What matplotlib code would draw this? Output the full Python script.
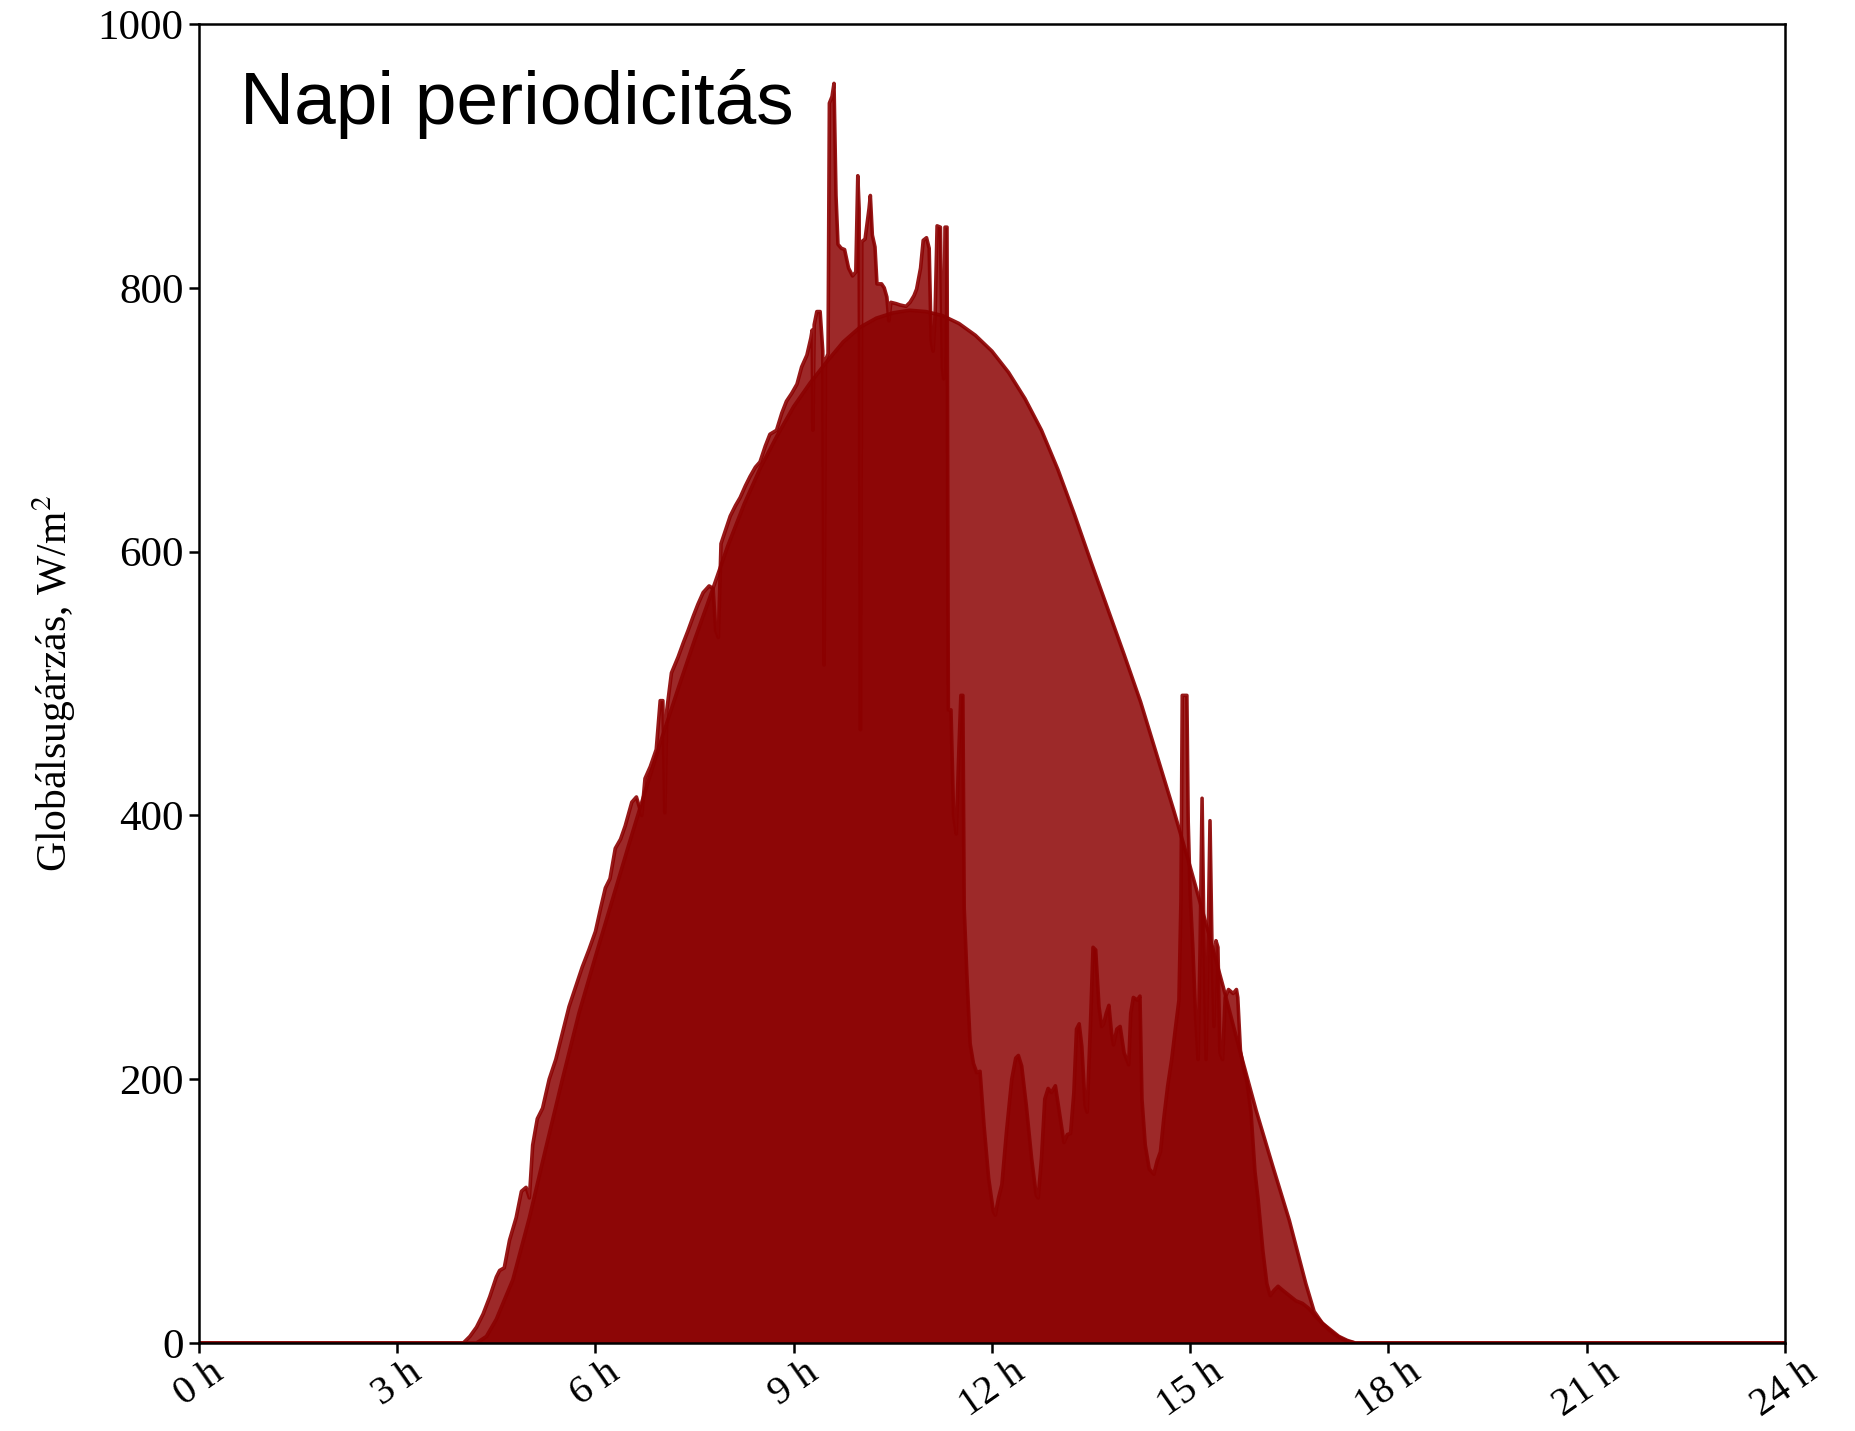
import matplotlib
matplotlib.use("Agg")
import matplotlib.pyplot as plt
import numpy as np

# napi globalsugarzas: mert es tiszta egbolt szerinti (W/m2), ora szerint
meres_ora = [0.0, 4.0, 4.1, 4.2, 4.3, 4.4, 4.5, 4.55, 4.62, 4.7, 4.8, 4.88, 4.95, 5.0, 5.05,
             5.12, 5.2, 5.3, 5.4, 5.5, 5.6, 5.7, 5.8, 5.9, 6.0, 6.08, 6.15, 6.22, 6.3, 6.38,
             6.45, 6.55, 6.62, 6.7, 6.75, 6.83, 6.92, 6.98, 7.02, 7.05, 7.08, 7.15, 7.25,
             7.33, 7.4, 7.48, 7.55, 7.63, 7.72, 7.78, 7.82, 7.86, 7.9, 8.04, 8.12, 8.19,
             8.27, 8.34, 8.42, 8.49, 8.57, 8.64, 8.74, 8.82, 8.89, 8.97, 9.05, 9.12, 9.2,
             9.26, 9.28, 9.29, 9.31, 9.35, 9.4, 9.44, 9.46, 9.48, 9.52, 9.54, 9.58, 9.61,
             9.64, 9.67, 9.72, 9.77, 9.83, 9.89, 9.94, 9.97, 9.99, 10.01, 10.03, 10.08,
             10.14, 10.16, 10.19, 10.23, 10.26, 10.33, 10.37, 10.41, 10.44, 10.47, 10.55,
             10.61, 10.7, 10.76, 10.82, 10.86, 10.92, 10.96, 11.01, 11.05, 11.08, 11.11,
             11.14, 11.17, 11.22, 11.25, 11.27, 11.29, 11.32, 11.34, 11.38, 11.42, 11.46,
             11.5, 11.53, 11.56, 11.58, 11.62, 11.67, 11.72, 11.77, 11.82, 11.88, 11.95,
             12.02, 12.05, 12.1, 12.15, 12.22, 12.3, 12.36, 12.4, 12.45, 12.52, 12.6, 12.67,
             12.7, 12.75, 12.8, 12.85, 12.9, 12.96, 13.02, 13.09, 13.14, 13.19, 13.24, 13.28,
             13.32, 13.36, 13.41, 13.44, 13.49, 13.53, 13.57, 13.62, 13.66, 13.69, 13.73,
             13.77, 13.81, 13.84, 13.89, 13.94, 14.0, 14.07, 14.1, 14.14, 14.2, 14.24, 14.27,
             14.32, 14.38, 14.45, 14.5, 14.55, 14.6, 14.66, 14.72, 14.78, 14.83, 14.86,
             14.88, 14.95, 14.97, 15.0, 15.04, 15.08, 15.12, 15.15, 15.18, 15.21, 15.24,
             15.27, 15.3, 15.33, 15.36, 15.39, 15.42, 15.45, 15.49, 15.53, 15.58, 15.65,
             15.7, 15.72, 15.76, 15.8, 15.86, 15.92, 15.98, 16.03, 16.1, 16.16, 16.21,
             16.27, 16.33, 16.4, 16.5, 16.6, 16.7, 16.8, 16.9, 17.0, 17.1, 17.2, 17.3,
             17.4, 17.5, 24.0]
meres_ertek = [0, 0, 5, 12, 22, 35, 50, 55, 57, 78, 95, 115, 118, 110, 150,
               170, 178, 200, 215, 235, 255, 270, 285, 298, 312, 330, 345, 352, 375, 382,
               392, 410, 414, 400, 428, 437, 450, 487, 487, 402, 480, 508, 520,
               531, 540, 551, 560, 569, 574, 572, 540, 535, 606, 627, 635, 641,
               650, 657, 664, 668, 680, 689, 692, 705, 714, 720, 727, 740, 749,
               762, 768, 692, 772, 782, 782, 752, 514, 745, 750, 940, 945, 955,
               870, 833, 830, 829, 815, 809, 812, 885, 860, 465, 835, 837,
               860, 870, 840, 831, 803, 803, 800, 793, 775, 789, 788,
               787, 786, 789, 794, 799, 815, 836, 838, 830, 760, 752,
               780, 847, 846, 740, 731, 846, 846, 480, 480, 400, 386,
               450, 491, 491, 330, 280, 227, 212, 205, 206, 165, 125,
               100, 97, 110, 120, 160, 200, 216, 218, 210, 180, 140, 112,
               110, 140, 185, 193, 190, 195, 175, 152, 158, 159, 190, 238,
               242, 225, 180, 175, 240, 300, 298, 255, 240, 242, 250,
               256, 235, 226, 238, 240, 220, 211, 250, 262, 260, 263, 185,
               150, 132, 128, 138, 145, 170, 195, 215, 240, 260, 335,
               491, 491, 395, 340, 300, 250, 215, 300, 413, 300, 215,
               300, 396, 300, 240, 305, 300, 220, 215, 262, 268, 265,
               268, 262, 222, 210, 198, 175, 130, 108, 70, 45, 36,
               40, 43, 40, 36, 32, 30, 26, 20, 15, 10, 6, 3,
               1, 0, 0]

tiszta_ora = [0.0, 4.2, 4.35, 4.5, 4.75, 5.0, 5.25, 5.5, 5.75, 6.0, 6.25, 6.5, 6.75, 7.0,
              7.25, 7.5, 7.75, 8.0, 8.25, 8.5, 8.75, 9.0, 9.25, 9.5, 9.75, 10.0, 10.25,
              10.5, 10.75, 11.0, 11.25, 11.5, 11.75, 12.0, 12.25, 12.5, 12.75, 13.0, 13.25,
              13.5, 13.75, 14.0, 14.25, 14.5, 14.75, 15.0, 15.25, 15.5, 15.75, 16.0, 16.25,
              16.5, 16.75, 16.875, 17.0, 17.125, 17.25, 17.375, 17.5, 24.0]
tiszta_ertek = [0, 0, 5, 18, 48, 95, 148, 200, 250, 293, 335, 377, 418, 458,
                496, 533, 568, 604, 636, 664, 688, 710, 728, 744, 759, 770, 777,
                781, 783, 782, 779, 773, 764, 752, 736, 716, 692, 662, 628,
                592, 557, 522, 486, 445, 404, 361, 316, 270, 222, 176, 134,
                93, 45, 24, 15, 10, 5, 2, 0, 0]

ora_tickek = list(range(0, 25, 3))
ora_cimkek = ['%d h' % o for o in ora_tickek]

szin = 'darkred'
plt.rcParams['mathtext.fontset'] = 'stix'

fig = plt.figure(figsize=(18.56, 14.31), dpi=100)
ax = fig.add_axes([0.1072, 0.0615, 0.8545, 0.9217])

ax.fill_between(tiszta_ora, tiszta_ertek, color=szin, alpha=0.84, lw=0)
ax.plot(tiszta_ora, tiszta_ertek, color=szin, lw=2.6, alpha=0.9)
ax.fill_between(meres_ora, meres_ertek, color=szin, alpha=0.84, lw=0)
ax.plot(meres_ora, meres_ertek, color=szin, lw=2.6, alpha=0.9)

ax.set_xlim(0, 24)
ax.set_ylim(0, 1000)
ax.set_xticks(ora_tickek)
ax.set_xticklabels(ora_cimkek, rotation=35, ha='center',
                   fontfamily='Liberation Serif', fontsize=29)
ax.set_yticks(range(0, 1001, 200))
for t in ax.get_yticklabels():
    t.set_fontfamily('Liberation Serif')
    t.set_fontsize(31)
ax.tick_params(direction='out', length=7, width=1.8, pad=4)
ax.tick_params(axis='x', pad=1)
for s in ax.spines.values():
    s.set_linewidth(1.8)

ax.set_ylabel('Globálsugárzás, W/m$^2$', fontfamily='Liberation Serif',
              fontsize=30, labelpad=14)

ax.text(0.026, 0.924, 'Napi periodicitás', transform=ax.transAxes,
        fontfamily='Liberation Sans', fontsize=54, va='baseline', ha='left')

fig.savefig('out.png', dpi=100)
